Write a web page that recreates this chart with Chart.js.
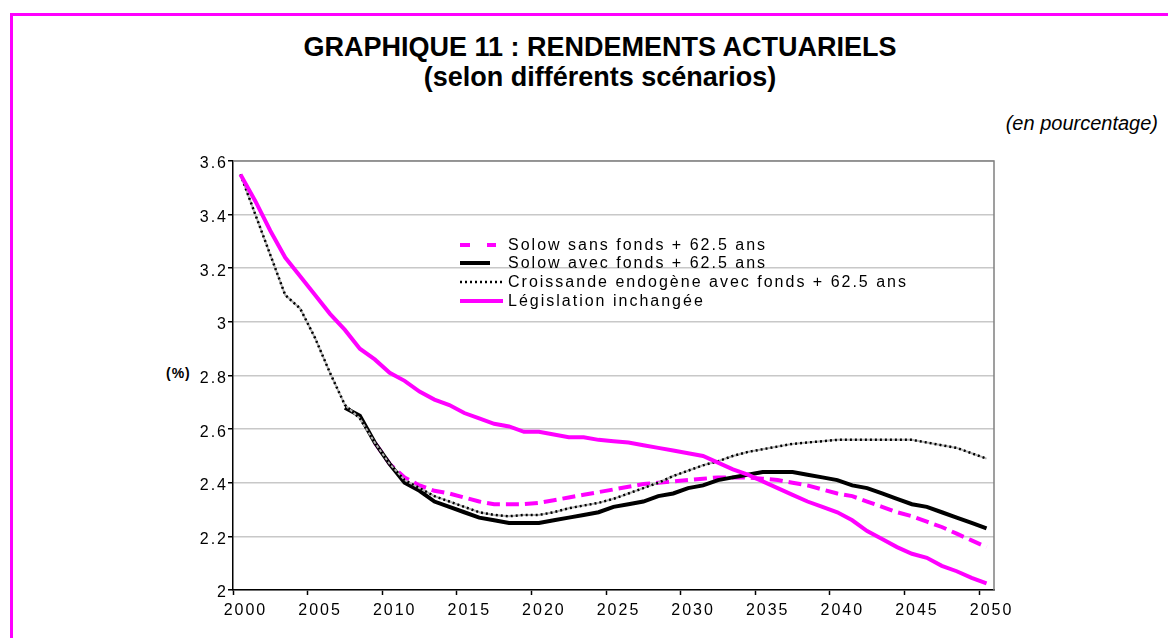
<!DOCTYPE html>
<html lang="fr">
<head>
<meta charset="UTF-8">
<title>Graphique 11 : rendements actuariels</title>
<style>
  html, body { margin: 0; padding: 0; background: #fff; overflow: hidden; }
  body { width: 1168px; height: 638px; position: relative; font-family: "Liberation Sans", Arial, sans-serif; color: #000; }
  .cadre { position: absolute; left: 10px; top: 13px; width: 1200px; height: 700px; border-top: 3px solid #ff00ff; border-left: 3px solid #ff00ff; }
  .titre { position: absolute; left: 0; top: 32px; width: 1200px; text-align: center; font-weight: bold; font-size: 27px; line-height: 30px; }
  .unite { position: absolute; right: 10px; top: 113px; font-style: italic; font-size: 20px; line-height: 20px; }
  .pct { position: absolute; left: 166px; top: 365px; font-weight: bold; font-size: 14px; letter-spacing: 1px; }
  #graph { position: absolute; left: 0; top: 0; }
</style>
</head>
<body>
<div class="cadre"></div>
<div class="titre">GRAPHIQUE 11 : RENDEMENTS ACTUARIELS<br>(selon différents scénarios)</div>
<div class="unite">(en pourcentage)</div>
<div class="pct">(%)</div>
<canvas id="graph" width="1168" height="638"></canvas>

<script src="https://cdn.jsdelivr.net/npm/chart.js"></script>
<script>
// années
const annees = [
  '2000','2001','2002','2003','2004','2005','2006','2007','2008','2009',
  '2010','2011','2012','2013','2014','2015','2016','2017','2018','2019',
  '2020','2021','2022','2023','2024','2025','2026','2027','2028','2029',
  '2030','2031','2032','2033','2034','2035','2036','2037','2038','2039',
  '2040','2041','2042','2043','2044','2045','2046','2047','2048','2049','2050'
];

// rendements (%) par scénario
const solowSansFonds = [
  null, null, null, null, null, null, null, null, null, 2.55,
  2.47, 2.42, 2.39, 2.37, 2.36, 2.345, 2.33, 2.32, 2.32, 2.32,
  2.325, 2.335, 2.345, 2.355, 2.365, 2.375, 2.385, 2.395, 2.40, 2.405,
  2.41, 2.415, 2.42, 2.42, 2.42, 2.415, 2.41, 2.40, 2.39, 2.375,
  2.36, 2.35, 2.33, 2.31, 2.29, 2.275, 2.255, 2.235, 2.21, 2.185, 2.16
];
const solowAvecFonds = [
  null, null, null, null, null, null, null, 2.68, 2.65, 2.55,
  2.47, 2.40, 2.37, 2.33, 2.31, 2.29, 2.27, 2.26, 2.25, 2.25,
  2.25, 2.26, 2.27, 2.28, 2.29, 2.31, 2.32, 2.33, 2.35, 2.36,
  2.38, 2.39, 2.41, 2.42, 2.43, 2.44, 2.44, 2.44, 2.43, 2.42,
  2.41, 2.39, 2.38, 2.36, 2.34, 2.32, 2.31, 2.29, 2.27, 2.25, 2.23
];
const croissanceEndogene = [
  3.55, 3.40, 3.25, 3.10, 3.05, 2.94, 2.81, 2.69, 2.64, 2.55,
  2.47, 2.41, 2.38, 2.35, 2.33, 2.31, 2.29, 2.28, 2.275, 2.28,
  2.28, 2.29, 2.305, 2.315, 2.325, 2.34, 2.36, 2.38, 2.40, 2.425,
  2.445, 2.465, 2.48, 2.50, 2.515, 2.525, 2.535, 2.545, 2.55, 2.555,
  2.56, 2.56, 2.56, 2.56, 2.56, 2.56, 2.55, 2.54, 2.53, 2.51, 2.49
];
const legislation = [
  3.55, 3.45, 3.34, 3.24, 3.17, 3.10, 3.03, 2.97, 2.90, 2.86,
  2.81, 2.78, 2.74, 2.71, 2.69, 2.66, 2.64, 2.62, 2.61, 2.59,
  2.59, 2.58, 2.57, 2.57, 2.56, 2.555, 2.55, 2.54, 2.53, 2.52,
  2.51, 2.50, 2.475, 2.45, 2.43, 2.405, 2.38, 2.355, 2.33, 2.31,
  2.29, 2.26, 2.22, 2.19, 2.16, 2.135, 2.12, 2.09, 2.07, 2.045, 2.025
];

const libelles = [
  'Solow sans fonds + 62.5 ans',
  'Solow avec fonds + 62.5 ans',
  'Croissande endogène avec fonds + 62.5 ans',
  'Législation inchangée'
];

const MAGENTA = '#ff00ff';

// espacement des lettres pour les graduations
const espacement = {
  id: 'espacement',
  beforeDraw(chart) { chart.ctx.letterSpacing = '2px'; },
  afterDraw(chart) { chart.ctx.letterSpacing = '0px'; }
};

// cadre gris en haut et à droite de la zone de tracé
const cadre = {
  id: 'cadre',
  beforeDatasetsDraw(chart) {
    const { ctx, chartArea: a } = chart;
    ctx.save();
    ctx.strokeStyle = '#808080';
    ctx.lineWidth = 1.5;
    ctx.beginPath();
    ctx.moveTo(a.left, a.top);
    ctx.lineTo(a.right, a.top);
    ctx.lineTo(a.right, a.bottom);
    ctx.stroke();
    ctx.restore();
  }
};

// fond gris clair sous la série pointillée
const sousPointille = {
  id: 'sousPointille',
  beforeDatasetDraw(chart, args) {
    if (args.index !== 2) return;
    const ctx = chart.ctx;
    const pts = args.meta.data;
    ctx.save();
    ctx.strokeStyle = '#b4b4b4';
    ctx.lineWidth = 2;
    ctx.beginPath();
    pts.forEach((p, i) => (i === 0 ? ctx.moveTo(p.x, p.y) : ctx.lineTo(p.x, p.y)));
    ctx.stroke();
    ctx.restore();
  }
};

// légende dans la zone de tracé
const legende = {
  id: 'legende',
  afterDraw(chart) {
    const ctx = chart.ctx;
    const x0 = 460, xTexte = 508;
    const lignes = [245, 263, 282, 301];
    const longueurs = [36, 30, 43, 43];
    ctx.save();
    chart.data.datasets.forEach((ds, i) => {
      const y = lignes[i];
      ctx.strokeStyle = ds.borderColor;
      ctx.lineWidth = ds.borderWidth;
      ctx.setLineDash(i === 0 ? [10, 17] : (ds.borderDash || []));
      ctx.beginPath();
      ctx.moveTo(x0, y);
      ctx.lineTo(x0 + longueurs[i], y);
      ctx.stroke();
      ctx.setLineDash([]);
      ctx.fillStyle = '#000';
      ctx.font = '16px "Liberation Sans", Arial, sans-serif';
      ctx.letterSpacing = '2px';
      ctx.textBaseline = 'alphabetic';
      ctx.textAlign = 'left';
      ctx.fillText(ds.label, xTexte, y + 5);
    });
    ctx.restore();
  }
};

new Chart(document.getElementById('graph'), {
  type: 'line',
  data: {
    labels: annees,
    datasets: [
      { label: libelles[0], data: solowSansFonds, borderColor: MAGENTA, borderWidth: 4, borderDash: [13, 6], order: 3 },
      { label: libelles[1], data: solowAvecFonds, borderColor: '#000', borderWidth: 4, order: 2 },
      { label: libelles[2], data: croissanceEndogene, borderColor: '#000', borderWidth: 2.5, borderDash: [2, 3], order: 1 },
      { label: libelles[3], data: legislation, borderColor: MAGENTA, borderWidth: 4, order: 0 }
    ]
  },
  options: {
    responsive: false,
    animation: false,
    devicePixelRatio: 1,
    layout: { padding: { left: 150, right: 174, top: 161, bottom: 18 } },
    elements: { point: { radius: 0 }, line: { tension: 0, fill: false } },
    plugins: { legend: { display: false }, tooltip: { enabled: false } },
    scales: {
      x: {
        type: 'category',
        offset: true,
        grid: {
          offset: true,
          drawOnChartArea: false,
          tickLength: 5,
          tickColor: c => (c.index % 5 === 0 ? '#000' : 'rgba(0,0,0,0)'),
          tickWidth: 1.5
        },
        border: { color: '#000', width: 1.5 },
        ticks: {
          autoSkip: false,
          maxRotation: 0,
          padding: 6,
          labelOffset: 5,
          color: '#000',
          font: { family: '"Liberation Sans", Arial, sans-serif', size: 16 },
          callback: function (v, i) { return i % 5 === 0 ? this.getLabelForValue(v) : ''; }
        },
        afterFit: s => { s.height = 30; s.paddingLeft = 0; s.paddingRight = 0; }
      },
      y: {
        min: 2,
        max: 3.6,
        grid: { color: '#c8c8c8', lineWidth: 1.5, tickColor: '#000', tickLength: 5 },
        border: { color: '#000', width: 1.5 },
        ticks: {
          stepSize: 0.2,
          padding: 0,
          labelOffset: 3,
          color: '#000',
          font: { family: '"Liberation Sans", Arial, sans-serif', size: 16 },
          callback: v => String(Math.round(v * 10) / 10)
        },
        afterFit: s => { s.width = 83; s.paddingTop = 0; s.paddingBottom = 0; }
      }
    }
  },
  plugins: [cadre, sousPointille, legende, espacement]
});
</script>
</body>
</html>
